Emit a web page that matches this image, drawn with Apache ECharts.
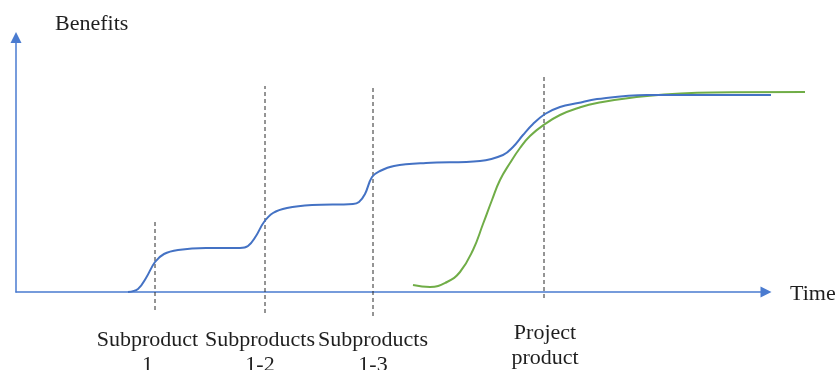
<!DOCTYPE html>
<html>
<head>
<meta charset="utf-8">
<script src="https://cdn.jsdelivr.net/npm/echarts@6/dist/echarts.min.js"></script>
<style>
  html, body { margin: 0; padding: 0; background: #ffffff; }
  #chart { width: 837px; height: 370px; }
</style>
</head>
<body>
<div id="chart"></div>
<script>
// Benefit accumulated over time: staged subproduct releases vs. one final project product.

// Staged delivery (blue)
const stagedTime = [112, 122, 130, 139, 148, 162, 190, 224, 232, 240, 248, 257, 271, 296, 337, 343, 349, 356, 364,
  378, 410, 464, 487, 497, 507, 517, 529, 544, 562, 581, 631, 755];
const stagedBenefit = [0, 3, 14, 30, 38, 42, 44, 44, 46, 56, 70, 79, 84, 87, 88, 90, 98, 115, 121,
  126, 129, 131, 137, 145, 157, 168, 178, 185, 189, 193, 197, 197];

// Single project product (green)
const projectTime = [397, 414, 431, 444, 457, 467, 476, 484, 494, 504, 514, 529, 544, 562, 581, 631, 697, 789];
const projectBenefit = [7, 5, 10, 20, 42, 68, 92, 112, 129, 144, 156, 168, 177, 184, 189, 196, 199.5, 200];

// Release milestones (dashed markers)
const milestoneTime = [139, 249, 357, 528];
const milestoneLow = [-18, -21, -24, -6];
const milestoneHigh = [70, 206, 204, 217];
const milestoneLabels = ['Subproduct\n1', 'Subproducts\n1-2', 'Subproducts\n1-3', 'Project\nproduct'];

const axisNames = ['Time', 'Benefits'];

const serif = '"Liberation Serif", "Times New Roman", serif';
const textColor = '#1f1f1f';
const axisColor = '#4a7bd0';

const chart = echarts.init(document.getElementById('chart'), null, { renderer: 'canvas' });

const pair = (xs, ys) => xs.map((x, i) => [x, ys[i]]);

// Text anchors (centre of each block)
const labelAnchors = [[147.5, 352.5], [260, 352.5], [373, 352.5], [545, 345.5]];
const timeNameAnchor = [790, 294.5];

const milestoneSeries = milestoneTime.map((t, i) => ({
  type: 'line',
  data: [[t, milestoneLow[i]], [t, milestoneHigh[i]]],
  symbol: 'none',
  clip: false,
  silent: true,
  z: 1,
  lineStyle: { color: '#2b2b2b', width: 1, type: [4, 3] }
}));

const hiddenAxis = {
  show: true,
  axisLine: { show: false },
  axisTick: { show: false },
  axisLabel: { show: false },
  splitLine: { show: false }
};
const arrowLine = { show: true, symbol: ['none', 'triangle'], symbolSize: [11, 11], lineStyle: { color: axisColor, width: 1.5 } };

chart.setOption({
  animation: false,
  backgroundColor: '#ffffff',
  grid: [
    // plotting area for the curves, extends past the arrow of the time axis
    { left: 16, right: 32, top: 37.5, bottom: 78, containLabel: false },
    // drawn axes with arrowheads
    { left: 16, right: 71, top: 37.5, bottom: 78, containLabel: false }
  ],
  xAxis: [
    Object.assign({ type: 'value', gridIndex: 0, min: 0, max: 789 }, hiddenAxis),
    {
      type: 'value', gridIndex: 1, min: 0, max: 750,
      axisLine: arrowLine,
      axisTick: { show: false },
      axisLabel: { show: false },
      splitLine: { show: false }
    }
  ],
  yAxis: [
    Object.assign({ type: 'value', gridIndex: 0, min: 0, max: 254.5 }, hiddenAxis),
    {
      type: 'value', gridIndex: 1, min: 0, max: 254.5,
      name: axisNames[1],
      nameLocation: 'end',
      nameGap: 2,
      nameTextStyle: { fontFamily: serif, fontSize: 22, color: textColor, align: 'left', padding: [0, 0, 0, 39] },
      axisLine: arrowLine,
      axisTick: { show: false },
      axisLabel: { show: false },
      splitLine: { show: false }
    }
  ],
  series: [
    ...milestoneSeries,
    {
      name: 'Project product',
      type: 'line',
      data: pair(projectTime, projectBenefit),
      smooth: 0.45,
      symbol: 'none',
      clip: false,
      z: 2,
      lineStyle: { color: '#70ad47', width: 2 }
    },
    {
      name: 'Subproducts',
      type: 'line',
      data: pair(stagedTime, stagedBenefit),
      smooth: 0.4,
      symbol: 'none',
      clip: false,
      z: 3,
      lineStyle: { color: '#4472c4', width: 2 }
    }
  ],
  graphic: milestoneLabels.map((text, i) => ({
    type: 'text',
    x: labelAnchors[i][0],
    y: labelAnchors[i][1],
    silent: true,
    style: {
      text: text,
      font: '22px ' + serif,
      fill: textColor,
      align: 'center',
      verticalAlign: 'middle',
      lineHeight: 25
    }
  })).concat([{
    type: 'text',
    x: timeNameAnchor[0],
    y: timeNameAnchor[1],
    silent: true,
    style: {
      text: axisNames[0],
      font: '22px ' + serif,
      fill: textColor,
      align: 'left',
      verticalAlign: 'middle'
    }
  }])
});
</script>
</body>
</html>
